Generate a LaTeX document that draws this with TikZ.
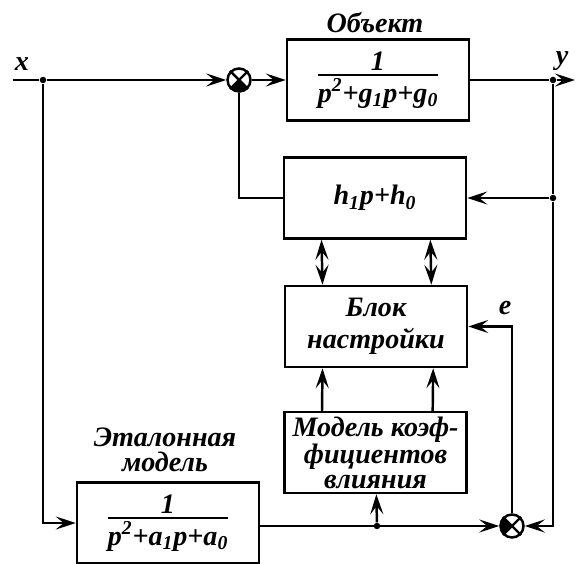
\documentclass[tikz,border=0pt]{standalone}
\usepackage{amsmath}
\usepackage{fontspec}
\setmainfont{Liberation Serif}
\usetikzlibrary{arrows.meta,positioning,calc}

\newcommand{\blkfrac}[2]{$\genfrac{}{}{1.3pt}{1}{\mbox{#1}}{\mbox{#2}}$}

\begin{document}
\begin{tikzpicture}[
    block/.style={rectangle, draw, line width=1.4pt,
                  minimum width=3.64cm, minimum height=1.62cm,
                  inner sep=1pt},
    summer/.style={circle, draw, line width=1.4pt, minimum size=0.46cm, inner sep=0pt},
    dot/.style={circle, fill, inner sep=0pt, minimum size=0.13cm},
    line/.style={line width=1.4pt},
    arrow/.style={-{Stealth[length=4mm,width=2.6mm,inset=1.6mm]}, line width=1.4pt},
    darrow/.style={{Stealth[length=4mm,width=2.6mm,inset=1.6mm]}-{Stealth[length=4mm,width=2.6mm,inset=1.6mm]}, line width=1.4pt},
    every node/.style={align=center, font=\fontsize{16}{14}\selectfont\bfseries\itshape}
]
\useasboundingbox (0,0) rectangle (11.52,11.26);

% plant and adjustable feedback
\coordinate (xin) at (0.26,9.66);
\node at (0.44,9.98) {x};
\node[dot] (jx) at (0.86,9.66) {};
\node[summer] (sum1) at (4.78,9.66) {};
\node[block] (obj) at (7.56,9.66) {\blkfrac{1}{p\textsuperscript{2}+g\textsubscript{1}p+g\textsubscript{0}}};
\node at (7.5,10.8) {Объект};
\node[dot] (jy) at (11.06,9.66) {};
\coordinate (yout) at (11.5,9.66);
\node at (11.24,10.04) {y};
\node[block] (hblk) at (7.5,7.3) {h\textsubscript{1}p+h\textsubscript{0}};
\node[dot] (jh) at (11.06,7.3) {};

% tuning part
\node[block] (tune) at (7.52,4.73) {Блок\\[4pt]настройки};
\node at (10.1,5.1) {e};
\node[block] (infl) at (7.51,2.21) {Модель коэф-\\фициентов\\влияния};

% reference model
\node[block] (etal) at (3.36,0.8) {\blkfrac{1}{p\textsuperscript{2}+a\textsubscript{1}p+a\textsubscript{0}}};
\node at (3.3,2.26) {Эталонная\\модель};
\node[summer] (sum2) at (10.24,0.74) {};
\node[dot] (jm) at (7.54,0.74) {};

% summer marks
\fill (sum1.center) -- (sum1.-45) arc[start angle=-45, end angle=-135, radius=0.24cm] -- cycle;
\draw[line] (sum1.45) -- (sum1.-135) (sum1.135) -- (sum1.-45);
\fill (sum2.center) -- (sum2.135) arc[start angle=135, end angle=225, radius=0.24cm] -- cycle;
\draw[line] (sum2.45) -- (sum2.-135) (sum2.135) -- (sum2.-45);

\draw[line]  (xin) -- (jx);
\draw[arrow] (jx) -- (sum1);
\draw[arrow] (sum1) -- (obj);
\draw[line]  (obj) -- (jy);
\draw[arrow] (jy) -- (yout);
\draw[line]  (jy) -- (jh);
\draw[arrow] (jh) -- (hblk);
\draw[arrow] (jh) |- (sum2);
\draw[line]  (hblk) -| (sum1);
\draw[darrow] ($(hblk.south west)!0.21!(hblk.south east)$) -- ($(tune.north west)!0.21!(tune.north east)$);
\draw[darrow] ($(hblk.south west)!0.8!(hblk.south east)$) -- ($(tune.north west)!0.8!(tune.north east)$);
\draw[arrow] ($(infl.north west)!0.21!(infl.north east)$) -- ($(tune.south west)!0.21!(tune.south east)$);
\draw[arrow] ($(infl.north west)!0.81!(infl.north east)$) -- ($(tune.south west)!0.81!(tune.south east)$);
\draw[arrow] (sum2) |- (tune);
\draw[arrow] (jx) |- (etal);
\draw[arrow] (etal.east |- sum2) -- (sum2);
\draw[arrow] (jm) -- (infl);
\end{tikzpicture}
\end{document}
